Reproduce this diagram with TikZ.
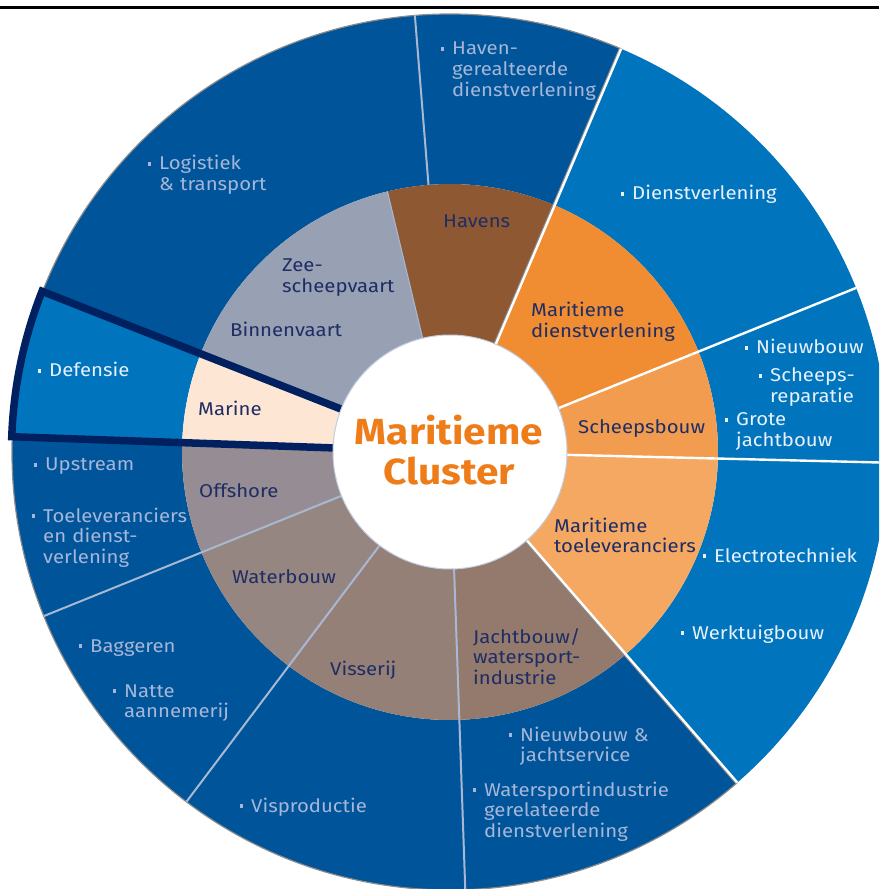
\documentclass[tikz,border=0pt]{standalone}
\usepackage{fontspec}
\setmainfont{Fira Sans}[FakeStretch=1.1]
\newfontfamily\clusterfont{Fira Sans}[FakeStretch=1.12]
\definecolor{seadark}{RGB}{0,84,153}
\definecolor{sealight}{RGB}{0,117,190}
\definecolor{navyframe}{RGB}{0,32,96}
\definecolor{navytext}{RGB}{30,45,100}
\definecolor{paletext}{RGB}{165,182,216}
\definecolor{lighttext}{RGB}{232,240,250}
\definecolor{divider}{RGB}{168,184,210}
\definecolor{rimgrey}{RGB}{140,140,140}
\definecolor{clusterorange}{RGB}{238,125,25}
\definecolor{zeegrey}{RGB}{152,160,180}
\definecolor{havenbrown}{RGB}{142,88,50}
\definecolor{dienstorange}{RGB}{240,140,50}
\definecolor{bouworange}{RGB}{242,156,80}
\definecolor{toelevorange}{RGB}{244,168,98}
\definecolor{jachttaupe}{RGB}{148,122,108}
\definecolor{vistaupe}{RGB}{149,128,120}
\definecolor{watertaupe}{RGB}{150,134,130}
\definecolor{offshoretaupe}{RGB}{150,140,148}
\definecolor{marinepeach}{RGB}{253,230,212}
% small square bullet hanging left of the first line
\newcommand\bul{\llap{\rule[0.22em]{0.2em}{0.2em}\hspace{0.42em}}}

\begin{document}
\begin{tikzpicture}[x=1pt, y=1pt,
  outerlbl/.style={font=\fontsize{18.5}{20.7}\selectfont, anchor=base west, align=left, inner sep=0pt, text width=230pt},
  darklbl/.style={outerlbl, text=paletext},
  lightlbl/.style={outerlbl, text=lighttext},
  innerlbl/.style={font=\fontsize{18.5}{20.7}\selectfont, anchor=base west, align=left, inner sep=0pt, text width=170pt, text=navytext},
  thinsep/.style={draw=divider, line width=2pt},
  whitesep/.style={draw=white, line width=2.4pt}]
\useasboundingbox (-450,-437) rectangle (429,452);
\clip (-450,-437) rectangle (429,452);
\draw[line width=2.2pt] (-450,444.5) -- (429,444.5);

% outer ring
\foreach \a/\b/\col in {67/94.6/seadark, 94.6/158.5/seadark, 158.5/178/sealight, 178/202/seadark,
    202/233/seadark, 233/272/seadark, 272/311/seadark, 311/358.6/sealight, 358.6/382/sealight, 22/67/sealight}{
  \fill[fill=\col] (\a:268) arc[start angle=\a, end angle=\b, radius=268pt]
    -- (\b:438) arc[start angle=\b, end angle=\a, radius=438pt] -- cycle;
}
% inner ring
\foreach \a/\b/\col in {67/103.5/havenbrown, 103.5/158.5/zeegrey, 158.5/178/marinepeach, 178/202/offshoretaupe,
    202/233/watertaupe, 233/272/vistaupe, 272/311/jachttaupe, 311/358.6/toelevorange,
    358.6/382/bouworange, 22/67/dienstorange}{
  \fill[fill=\col] (\a:117) arc[start angle=\a, end angle=\b, radius=117pt]
    -- (\b:268) arc[start angle=\b, end angle=\a, radius=268pt] -- cycle;
}
% grey rim on the dark blue part
\draw[rimgrey, line width=1.2pt] (67:438) arc[start angle=67, end angle=158.5, radius=438pt];
\draw[rimgrey, line width=1.2pt] (178:438) arc[start angle=178, end angle=311, radius=438pt];

% separators
\draw[thinsep] (94.6:268) -- (94.6:438);
\draw[thinsep, line width=1pt] (103.5:117) -- (103.5:268);
\foreach \a in {202,233,272}{
  \draw[thinsep] (\a:110) -- (\a:438);
}
\draw[rimgrey, line width=1.4pt, shift={(157:1.6)}] (67:110) -- (67:438);
\draw[rimgrey, line width=1.4pt, shift={(221:1.6)}] (311:110) -- (311:438);
\foreach \a in {67,22,-1.4,311}{
  \draw[whitesep] (\a:110) -- (\a:438);
}

% highlighted sector
\draw[navyframe, line width=7.5pt, line join=miter] (158.5:110) -- (158.5:438.5)
  arc[start angle=158.5, end angle=178, radius=438.5pt] -- (178:110);

\fill[white, draw=divider!70, line width=1pt] (0,0) circle[radius=117pt];
\node[font=\clusterfont\bfseries\fontsize{36.3}{40}\selectfont, text=clusterorange, align=center, inner sep=0pt]
  (cluster) at (-1,1.5) {Maritieme\\Cluster};

% inner ring labels
\node[innerlbl] (zeevaart) at (-168,180) {Zee-\\scheepvaart};
\node[innerlbl] (binnenvaart) at (-220,115) {Binnenvaart};
\node[innerlbl] (havens) at (-7,224) {Havens};
\node[innerlbl] (mardienst) at (81,135) {Maritieme\\dienstverlening};
\node[innerlbl] (scheepsbouw) at (128,18) {Scheepsbouw};
\node[innerlbl] (martoelev) at (104,-80) {Maritieme\\toeleveranciers};
\node[innerlbl] (jachtbouw) at (23,-191) {Jachtbouw/\\watersport-\\industrie};
\node[innerlbl] (visserij) at (-120,-223) {Visserij};
\node[innerlbl] (waterbouw) at (-218,-131) {Waterbouw};
\node[innerlbl] (offshore) at (-251,-45) {Offshore};
\node[innerlbl] (marine) at (-252,36) {Marine};

% outer ring labels
\node[darklbl] (havengerel) at (2,397) {\bul Haven-\\gerealteerde\\dienstverlening};
\node[lightlbl] (dienstv) at (182,252) {\bul Dienstverlening};
\node[darklbl] (logistiek) at (-291,282) {\bul Logistiek\\\& transport};
\node[lightlbl] (defensie) at (-401,75) {\bul Defensie};
\node[darklbl] (upstream) at (-405,-19) {\bul Upstream};
\node[darklbl] (toelev) at (-407,-70) {\bul Toeleveranciers\\en dienst-\\verlening};
\node[darklbl] (baggeren) at (-360,-200) {\bul Baggeren};
\node[darklbl] (natte) at (-326,-245) {\bul Natte\\aannemerij};
\node[darklbl] (visprod) at (-199,-360) {\bul Visproductie};
\node[darklbl] (jachtserv) at (70,-289) {\bul Nieuwbouw \&\\jachtservice};
\node[darklbl] (watersport) at (34,-344) {\bul Watersportindustrie\\gerelateerde\\dienstverlening};
\node[lightlbl] (werktuig) at (242,-187) {\bul Werktuigbouw};
\node[lightlbl] (electro) at (264,-110) {\bul Electrotechniek};
\node[lightlbl] (nieuwbouw) at (306,98) {\bul Nieuwbouw};
\node[lightlbl] (reparatie) at (320,70) {\bul Scheeps-\\reparatie};
\node[lightlbl] (grotejacht) at (286,26) {\bul Grote\\jachtbouw};
\end{tikzpicture}
\end{document}
